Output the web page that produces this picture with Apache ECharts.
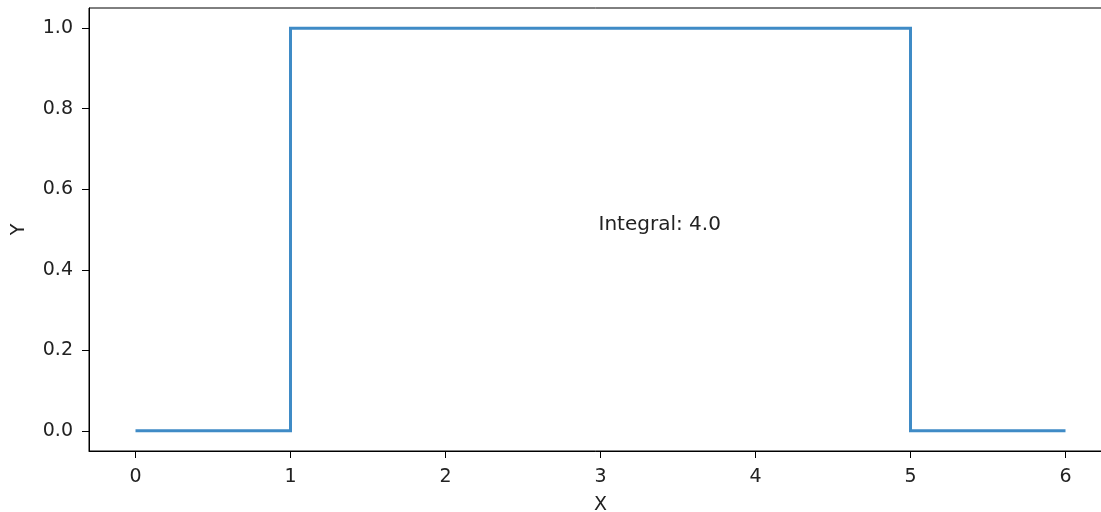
<!DOCTYPE html>
<html>
<head>
<meta charset="utf-8">
<script src="https://cdn.jsdelivr.net/npm/echarts@6/dist/echarts.min.js"></script>
<style>
html,body{margin:0;padding:0;background:#fff;overflow:hidden;}
#chart{width:1101px;height:512px;}
</style>
</head>
<body>
<div id="chart"></div>
<script>
const xValues = [0, 1, 2, 3, 4, 5, 6];
const yValues = [0, 1, 1, 1, 1, 0, 0];
const xTicks = [0, 1, 2, 3, 4, 5, 6];
const yTicks = [0, 0.2, 0.4, 0.6, 0.8, 1.0];
const annotationText = 'Integral: 4.0';
const annotationPos = [3, 0.5];

const font = 'DejaVu Sans';
const textColor = '#222';
const chart = echarts.init(document.getElementById('chart'), null, {renderer: 'canvas'});
chart.setOption({
  animation: false,
  backgroundColor: '#fff',
  grid: {left: 89, top: 8, width: 1023, height: 443, show: true, borderColor: '#000', borderWidth: 1,
    containLabel: false, outerBoundsMode: 'none'},
  xAxis: {
    type: 'value', min: -0.3, max: 6.3,
    name: 'X', nameLocation: 'middle', nameGap: 45,
    nameTextStyle: {fontFamily: font, fontSize: 19, color: textColor},
    axisLine: {show: true, onZero: false, lineStyle: {color: '#000', width: 1}},
    axisTick: {show: true, length: 7, lineStyle: {color: '#000'}, customValues: xTicks},
    axisLabel: {fontFamily: font, fontSize: 19, color: textColor, margin: 17, customValues: xTicks, formatter: v => String(v)},
    splitLine: {show: false}
  },
  yAxis: {
    type: 'value', min: -0.05, max: 1.05,
    name: 'Y', nameLocation: 'middle', nameGap: 60, nameRotate: 90,
    nameTextStyle: {fontFamily: font, fontSize: 19, color: textColor},
    axisLine: {show: true, onZero: false, lineStyle: {color: '#000', width: 1}},
    axisTick: {show: true, length: 7, lineStyle: {color: '#000'}, customValues: yTicks},
    axisLabel: {fontFamily: font, fontSize: 19, color: textColor, margin: 16, customValues: yTicks, formatter: v => v.toFixed(1)},
    splitLine: {show: false}
  },
  series: [{
    type: 'line',
    step: 'end',
    data: xValues.map((x, i) => [x, yValues[i]]),
    showSymbol: false,
    lineStyle: {color: '#3f8bc6', width: 3, join: 'miter'},
    markPoint: {
      symbol: 'circle', symbolSize: 0,
      data: [{coord: annotationPos, value: annotationText}],
      label: {show: true, formatter: annotationText, position: [0, 0], align: 'left', verticalAlign: 'bottom', offset: [-2, 5],
        fontFamily: font, fontSize: 20, color: textColor}
    }
  }]
});
</script>
</body>
</html>
